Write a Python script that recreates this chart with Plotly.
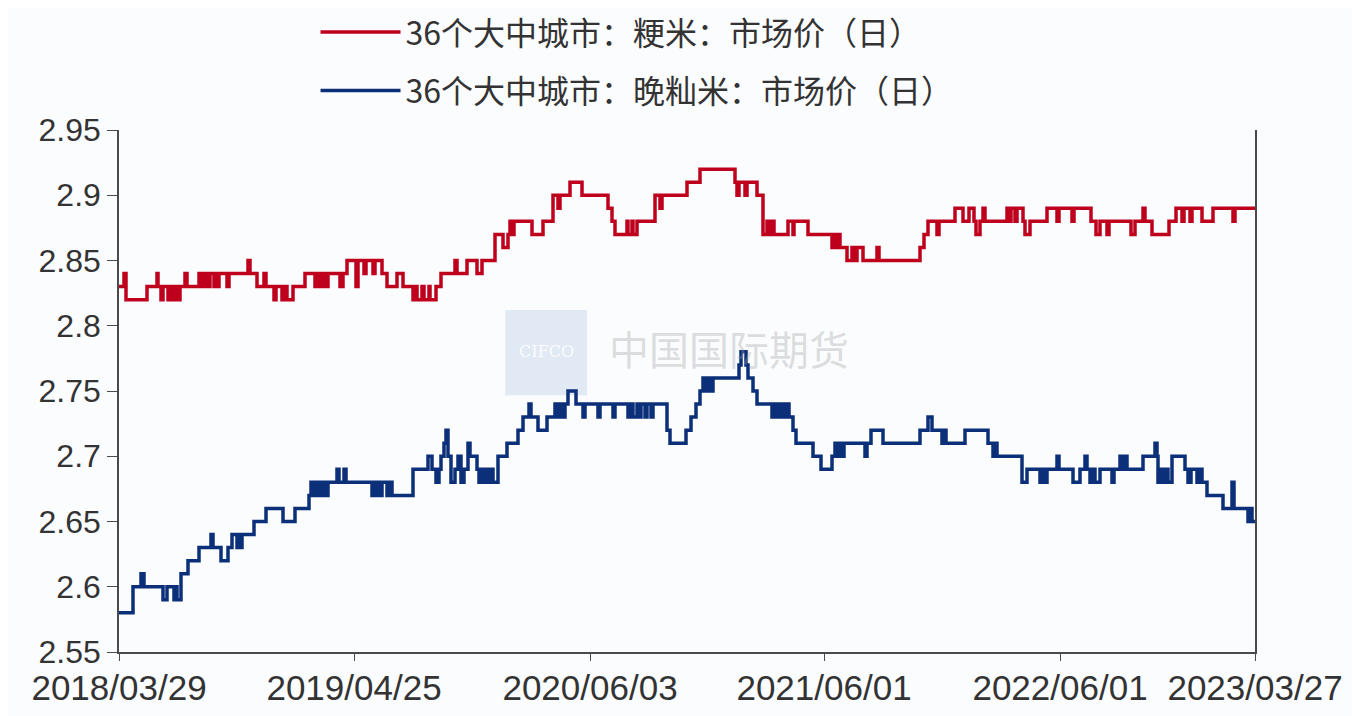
import plotly.graph_objects as go

# x = observation index (trading-day order); tick labels are the dates at those positions
tick_idx = [0, 235, 471, 705, 941, 1136]
tick_dates = ["2018/03/29", "2019/04/25", "2020/06/03", "2021/06/01", "2022/06/01", "2023/03/27"]

series_names = ["36个大中城市：粳米：市场价（日）", "36个大中城市：晚籼米：市场价（日）"]

# 粳米 change points (index, price)
japonica_idx = [0, 5, 7, 28, 38, 39, 42, 44, 49, 51, 54, 56, 58, 61, 66, 68, 80, 82, 83, 86, 87, 90, 91, 95, 96, 99,
                100, 108, 110, 129, 131, 138, 145, 147, 155, 157, 163, 165, 168, 174, 186, 196, 198, 201, 203, 206,
                209, 221, 224, 228, 237, 239, 245, 247, 254, 256, 263, 268, 278, 284, 294, 297, 298, 303, 305, 310,
                311, 317, 322, 336, 338, 348, 358, 363, 376, 384, 389, 391, 393, 395, 413, 424, 434, 439, 441, 451,
                463, 489, 493, 496, 508, 509, 513, 514, 518, 536, 541, 543, 568, 581, 616, 618, 620, 626, 628, 638,
                644, 648, 650, 652, 655, 669, 674, 675, 689, 713, 715, 717, 719, 721, 728, 733, 736, 738, 744, 758,
                760, 801, 805, 809, 818, 820, 836, 844, 850, 855, 857, 861, 864, 866, 888, 890, 892, 896, 898, 904,
                906, 911, 928, 938, 940, 953, 955, 972, 977, 981, 988, 990, 1012, 1016, 1024, 1026, 1033, 1050, 1057,
                1063, 1065, 1071, 1073, 1083, 1094, 1114, 1116, 1136]
japonica_val = [2.83, 2.84, 2.82, 2.83, 2.84, 2.83, 2.82, 2.83, 2.82, 2.83, 2.82, 2.83, 2.82, 2.83, 2.84, 2.83, 2.84,
                2.83, 2.84, 2.83, 2.84, 2.83, 2.84, 2.83, 2.84, 2.83, 2.84, 2.83, 2.84, 2.85, 2.84, 2.83, 2.84, 2.83,
                2.82, 2.83, 2.82, 2.83, 2.82, 2.83, 2.84, 2.83, 2.84, 2.83, 2.84, 2.83, 2.84, 2.83, 2.84, 2.85, 2.83,
                2.85, 2.84, 2.85, 2.84, 2.85, 2.84, 2.83, 2.84, 2.83, 2.82, 2.83, 2.82, 2.83, 2.82, 2.83, 2.82, 2.83,
                2.84, 2.85, 2.84, 2.85, 2.84, 2.85, 2.87, 2.86, 2.87, 2.88, 2.87, 2.88, 2.87, 2.88, 2.90, 2.89, 2.90,
                2.91, 2.90, 2.89, 2.88, 2.87, 2.88, 2.87, 2.88, 2.87, 2.88, 2.90, 2.89, 2.90, 2.91, 2.92, 2.91, 2.90,
                2.91, 2.90, 2.91, 2.90, 2.87, 2.88, 2.87, 2.88, 2.87, 2.88, 2.87, 2.88, 2.87, 2.86, 2.87, 2.86, 2.87,
                2.86, 2.85, 2.86, 2.85, 2.86, 2.85, 2.86, 2.85, 2.86, 2.87, 2.88, 2.87, 2.88, 2.89, 2.88, 2.89, 2.88,
                2.87, 2.88, 2.89, 2.88, 2.89, 2.88, 2.89, 2.88, 2.89, 2.88, 2.87, 2.88, 2.89, 2.88, 2.89, 2.88, 2.89,
                2.88, 2.87, 2.88, 2.87, 2.88, 2.87, 2.88, 2.89, 2.88, 2.87, 2.88, 2.89, 2.88, 2.89, 2.88, 2.89, 2.88,
                2.89, 2.88, 2.89, 2.89]

# 晚籼米 change points (index, price)
indica_idx = [0, 14, 22, 25, 44, 48, 55, 57, 58, 62, 69, 80, 92, 94, 102, 109, 113, 118, 120, 121, 123, 135, 147, 164,
              176, 190, 192, 195, 197, 198, 201, 202, 205, 206, 209, 218, 220, 225, 227, 253, 255, 256, 259, 260, 263,
              268, 270, 273, 294, 309, 313, 317, 320, 322, 325, 327, 329, 332, 336, 339, 342, 345, 349, 351, 358, 360,
              363, 365, 368, 370, 372, 374, 379, 388, 399, 404, 410, 412, 419, 428, 436, 439, 441, 444, 446, 449, 457,
              464, 466, 479, 481, 494, 496, 509, 512, 514, 518, 520, 522, 526, 528, 532, 534, 548, 551, 567, 572, 577,
              581, 584, 586, 589, 591, 594, 620, 622, 627, 629, 634, 638, 653, 655, 658, 661, 664, 667, 670, 674, 677,
              694, 702, 713, 716, 718, 721, 723, 725, 746, 748, 752, 764, 801, 809, 813, 823, 825, 827, 846, 869, 874,
              876, 878, 903, 908, 921, 923, 925, 928, 938, 940, 954, 961, 966, 968, 971, 974, 976, 981, 993, 995, 1001,
              1004, 1006, 1008, 1024, 1036, 1038, 1039, 1042, 1044, 1047, 1049, 1053, 1066, 1069, 1072, 1078, 1080,
              1083, 1088, 1104, 1113, 1115, 1129, 1131, 1133, 1136]
indica_val = [2.58, 2.60, 2.61, 2.60, 2.59, 2.60, 2.59, 2.60, 2.59, 2.61, 2.62, 2.63, 2.64, 2.63, 2.62, 2.63, 2.64,
              2.63, 2.64, 2.63, 2.64, 2.65, 2.66, 2.65, 2.66, 2.67, 2.68, 2.67, 2.68, 2.67, 2.68, 2.67, 2.68, 2.67,
              2.68, 2.69, 2.68, 2.69, 2.68, 2.67, 2.68, 2.67, 2.68, 2.67, 2.68, 2.67, 2.68, 2.67, 2.69, 2.70, 2.69,
              2.68, 2.69, 2.70, 2.71, 2.72, 2.70, 2.68, 2.69, 2.70, 2.68, 2.69, 2.71, 2.70, 2.69, 2.68, 2.69, 2.68,
              2.69, 2.68, 2.69, 2.68, 2.70, 2.71, 2.72, 2.73, 2.74, 2.73, 2.72, 2.73, 2.74, 2.73, 2.74, 2.73, 2.74,
              2.75, 2.74, 2.73, 2.74, 2.73, 2.74, 2.73, 2.74, 2.73, 2.74, 2.73, 2.74, 2.73, 2.74, 2.73, 2.74, 2.73,
              2.74, 2.72, 2.71, 2.72, 2.73, 2.74, 2.75, 2.76, 2.75, 2.76, 2.75, 2.76, 2.77, 2.78, 2.77, 2.76, 2.75,
              2.74, 2.73, 2.74, 2.73, 2.74, 2.73, 2.74, 2.73, 2.72, 2.71, 2.70, 2.69, 2.70, 2.71, 2.70, 2.71, 2.70,
              2.71, 2.70, 2.71, 2.72, 2.71, 2.72, 2.73, 2.72, 2.71, 2.72, 2.71, 2.72, 2.71, 2.70, 2.71, 2.70, 2.68,
              2.69, 2.68, 2.69, 2.68, 2.69, 2.70, 2.69, 2.68, 2.69, 2.70, 2.69, 2.68, 2.69, 2.68, 2.69, 2.68, 2.69,
              2.70, 2.69, 2.70, 2.69, 2.70, 2.71, 2.70, 2.68, 2.69, 2.68, 2.69, 2.68, 2.70, 2.69, 2.68, 2.69, 2.68,
              2.69, 2.68, 2.67, 2.66, 2.68, 2.66, 2.65, 2.66, 2.65, 2.65]

y_ticks = [2.55, 2.6, 2.65, 2.7, 2.75, 2.8, 2.85, 2.9, 2.95]

RED = "#BE001C"
BLUE = "#0B2F78"
AXIS = "#4a4a4a"
TXT = "#333333"

fig = go.Figure()
fig.add_trace(go.Scatter(x=japonica_idx, y=japonica_val, mode="lines", line_shape="hv",
                         line=dict(color=RED, width=3.5), name=series_names[0], legendgroup="a"))
fig.add_trace(go.Scatter(x=indica_idx, y=indica_val, mode="lines", line_shape="hv",
                         line=dict(color=BLUE, width=3.5), name=series_names[1], legendgroup="b"))

# watermark
fig.add_shape(type="rect", xref="paper", yref="paper", x0=0.340, x1=0.412, y0=0.492, y1=0.655,
              fillcolor="rgba(190,210,232,0.45)", line_width=0, layer="below")
fig.add_annotation(text="CIFCO", xref="paper", yref="paper", x=0.376, y=0.575, showarrow=False,
                   font=dict(family="DejaVu Serif", size=16, color="rgba(255,255,255,0.9)"))
fig.add_annotation(text="中国国际期货", xref="paper", yref="paper", x=0.537, y=0.583, showarrow=False,
                   font=dict(family="Noto Sans CJK SC", size=40, color="rgba(160,160,160,0.35)"))

fig.update_layout(
    width=1352, height=708,
    margin=dict(l=111, r=105, t=122, b=64, autoexpand=False),
    paper_bgcolor="#FBFCFE", plot_bgcolor="#FBFCFE",
    showlegend=True,
    legend=dict(x=0.173, xanchor="left", y=1.240, yref="paper", yanchor="top",
                traceorder="grouped", tracegroupgap=14, itemwidth=80,
                font=dict(family="Noto Sans CJK SC", size=32, color=TXT),
                bgcolor="rgba(0,0,0,0)"),
    xaxis=dict(range=[0, 1136], tickmode="array", tickvals=tick_idx, ticktext=tick_dates,
               showgrid=False, zeroline=False, showline=True, linecolor=AXIS, linewidth=1.5,
               ticks="outside", ticklen=7, tickcolor=AXIS, ticklabelstandoff=-3,
               tickfont=dict(family="Liberation Sans", size=35, color=TXT)),
    yaxis=dict(range=[2.55, 2.95], tickmode="array", tickvals=y_ticks,
               showgrid=False, zeroline=False, showline=True, mirror=True, linecolor=AXIS, linewidth=1.5,
               ticks="outside", ticklen=10, tickcolor=AXIS, ticklabelstandoff=0,
               tickfont=dict(family="Liberation Sans", size=32, color=TXT)),
)

fig.write_html("out.html")
